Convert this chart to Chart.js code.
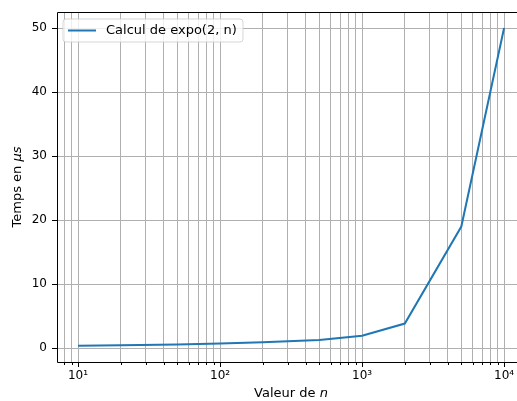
<!DOCTYPE html>
<html lang="fr">
<head>
    <meta charset="UTF-8">
    <title>Calcul de expo(2, n)</title>
    <style>
        body { margin: 0; overflow: hidden; background: #fff; }
        #box { position: absolute; left: 0; top: 0; width: 517px; height: 401px; }
    </style>
</head>
<body>
    <div id="box"><canvas id="chart" width="517" height="401"></canvas></div>

    <script src="https://cdn.jsdelivr.net/npm/chart.js"></script>
    <script>
        // valeurs
        const nValues = [10, 20, 50, 100, 200, 500, 1000, 2000, 5000, 10000];
        const tempsUs = [0.4, 0.48, 0.6, 0.72, 0.95, 1.3, 1.95, 3.85, 19.0, 50.0];
        const xMajor = [10, 100, 1000, 10000];
        const xMajorLabels = ['10¹', '10²', '10³', '10⁴'];
        const xMinor = [8, 9, 20, 30, 40, 50, 60, 70, 80, 90, 200, 300, 400, 500, 600, 700, 800, 900,
                        2000, 3000, 4000, 5000, 6000, 7000, 8000, 9000];
        const yTicks = [0, 10, 20, 30, 40, 50];
        const serieLabel = 'Calcul de expo(2, n)';

        const FONT = "'DejaVu Sans', sans-serif";
        const GRID = '#b0b0b0';
        const BLUE = '#1f77b4';

        // spines, tick marks, legende et titres d'axes (style matplotlib)
        const decor = {
            id: 'decor',
            afterDraw(chart) {
                const ctx = chart.ctx;
                const a = chart.chartArea;
                const xs = chart.scales.x, ys = chart.scales.y;
                ctx.save();
                ctx.strokeStyle = '#000';
                ctx.lineWidth = 1;
                ctx.beginPath();
                ctx.moveTo(a.right + 10, a.bottom + 0.5);
                ctx.lineTo(a.left + 0.5, a.bottom + 0.5);
                ctx.lineTo(a.left + 0.5, a.top + 0.5);
                ctx.lineTo(a.right + 10, a.top + 0.5);
                ctx.stroke();

                ctx.beginPath();
                xMajor.forEach(v => {
                    const px = Math.round(xs.getPixelForValue(v)) + 0.5;
                    ctx.moveTo(px, a.bottom); ctx.lineTo(px, a.bottom + 5);
                });
                xMinor.forEach(v => {
                    const px = Math.round(xs.getPixelForValue(v)) + 0.5;
                    ctx.moveTo(px, a.bottom); ctx.lineTo(px, a.bottom + 3);
                });
                yTicks.forEach(v => {
                    const py = Math.round(ys.getPixelForValue(v)) + 0.5;
                    ctx.moveTo(a.left, py); ctx.lineTo(a.left - 5, py);
                });
                ctx.stroke();

                // legende
                const lx = 63, ly = 19, lw = 180, lh = 23, r = 3;
                ctx.beginPath();
                ctx.moveTo(lx + r, ly);
                ctx.arcTo(lx + lw, ly, lx + lw, ly + lh, r);
                ctx.arcTo(lx + lw, ly + lh, lx, ly + lh, r);
                ctx.arcTo(lx, ly + lh, lx, ly, r);
                ctx.arcTo(lx, ly, lx + lw, ly, r);
                ctx.closePath();
                ctx.fillStyle = 'rgba(255,255,255,0.8)';
                ctx.fill();
                ctx.strokeStyle = 'rgba(204,204,204,0.8)';
                ctx.stroke();
                ctx.strokeStyle = chart.data.datasets[0].borderColor;
                ctx.lineWidth = 2;
                ctx.beginPath();
                ctx.moveTo(68, 30.5); ctx.lineTo(96, 30.5);
                ctx.stroke();
                ctx.fillStyle = '#000';
                ctx.font = '13px ' + FONT;
                ctx.textBaseline = 'middle';
                ctx.textAlign = 'left';
                ctx.fillText(chart.data.datasets[0].label, 106, 31);

                // titres
                const drawParts = (parts, cx, cy) => {
                    let w = 0;
                    parts.forEach(p => { ctx.font = p[1] + '13px ' + FONT; w += ctx.measureText(p[0]).width; });
                    let x = cx - w / 2;
                    parts.forEach(p => {
                        ctx.font = p[1] + '13px ' + FONT;
                        ctx.fillText(p[0], x, cy);
                        x += ctx.measureText(p[0]).width;
                    });
                };
                ctx.textBaseline = 'alphabetic';
                drawParts([['Valeur de ', ''], ['n', 'italic ']], 291, 397);
                ctx.translate(21, (a.top + a.bottom) / 2);
                ctx.rotate(-Math.PI / 2);
                drawParts([['Temps en ', ''], ['μs', 'italic ']], 0, 0);
                ctx.restore();
            }
        };

        new Chart(document.getElementById('chart').getContext('2d'), {
            type: 'line',
            data: {
                datasets: [{
                    label: serieLabel,
                    data: nValues.map((n, i) => ({ x: n, y: tempsUs[i] })),
                    borderColor: BLUE,
                    backgroundColor: BLUE,
                    borderWidth: 2,
                    pointRadius: 0,
                    tension: 0,
                    fill: false
                }]
            },
            options: {
                responsive: false,
                animation: false,
                devicePixelRatio: 1,
                layout: { padding: { left: 0, top: 12, right: 0, bottom: 0 } },
                plugins: { legend: { display: false }, tooltip: { enabled: false } },
                scales: {
                    x: {
                        type: 'logarithmic',
                        min: Math.pow(10, 0.852),
                        max: Math.pow(10, 4.091),
                        afterBuildTicks: s => {
                            s.ticks = xMinor.concat(xMajor).sort((p, q) => p - q).map(v => ({ value: v }));
                        },
                        afterFit: s => {
                            s.height = 39;
                            s.paddingLeft = 0; s.paddingRight = 0;
                        },
                        grid: { color: GRID, lineWidth: 1, drawTicks: false },
                        border: { display: false },
                        ticks: {
                            autoSkip: false,
                            maxRotation: 0,
                            padding: 7,
                            color: '#000',
                            font: { family: FONT, size: 12 },
                            callback: v => {
                                const i = xMajor.indexOf(v);
                                return i >= 0 ? xMajorLabels[i] : '';
                            }
                        }
                    },
                    y: {
                        min: -2.15,
                        max: 52.5,
                        afterBuildTicks: s => { s.ticks = yTicks.map(v => ({ value: v })); },
                        afterFit: s => {
                            s.width = 57;
                            s.paddingTop = 0; s.paddingBottom = 0;
                        },
                        grid: { color: GRID, lineWidth: 1, drawTicks: false },
                        border: { display: false },
                        ticks: {
                            padding: 10,
                            color: '#000',
                            font: { family: FONT, size: 12 }
                        }
                    }
                }
            },
            plugins: [decor]
        });
    </script>
</body>
</html>
